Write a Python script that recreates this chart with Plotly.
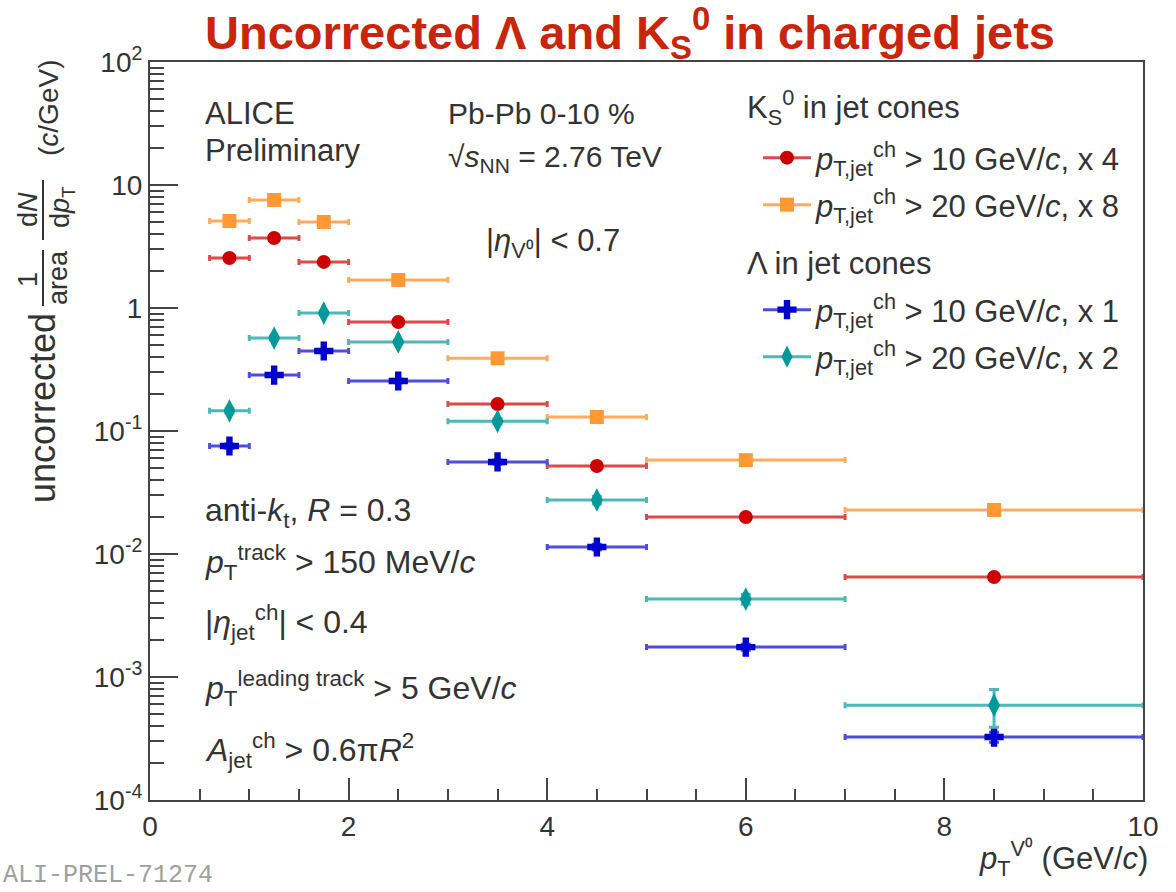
import plotly.graph_objects as go

# ---------------- data ----------------
pt_centers = [0.8, 1.25, 1.75, 2.5, 3.5, 4.5, 6.0, 8.5]
pt_halfwidths = [0.2, 0.25, 0.25, 0.5, 0.5, 0.5, 1.0, 1.5]

k0s_10 = [2.55, 3.71, 2.37, 0.77, 0.166, 0.052, 0.020, 0.0065]        # x4
k0s_20 = [5.1, 7.55, 5.0, 1.69, 0.39, 0.13, 0.058, 0.0228]            # x8
lam_10 = [0.0755, 0.285, 0.447, 0.255, 0.056, 0.0114, 0.00175, 0.000325]  # x1
lam_20 = [0.146, 0.57, 0.91, 0.53, 0.12, 0.0275, 0.0043, 0.00059]     # x2

k0s_10_err = [0.03, 0.05, 0.04, 0.015, 0.004, 0.0015, 0.0007, 0.0003]
k0s_20_err = [0.08, 0.12, 0.10, 0.04, 0.012, 0.005, 0.002, 0.001]
lam_10_err = [0.003, 0.008, 0.012, 0.008, 0.002, 0.0006, 0.0001, 0.00003]
lam_20_err = [0.006, 0.02, 0.03, 0.02, 0.006, 0.0020, 0.0004, 0.0002]

y_tickvals = [1e-4, 1e-3, 1e-2, 1e-1, 1, 10, 100]
y_ticktext = ["10<sup>-4</sup>", "10<sup>-3</sup>", "10<sup>-2</sup>", "10<sup>-1</sup>",
              "1", "10", "10<sup>2</sup>"]

FONT = "Liberation Sans, Arial, Helvetica, sans-serif"
TXT = "#333333"

# plot area in pixels
L, R, T, B = 150, 1143, 62, 800
W, H = 1176, 892


def px(xp):
    return (xp - L) / (R - L)


def py(yp):
    return (B - yp) / (B - T)


series = [
    dict(y=k0s_10, e=k0s_10_err, name="<i>p</i><sub>T,jet</sub><sup>ch</sup> > 10 GeV/<i>c</i>, x 4",
         mcol="#cc0000", lcol="#dd4a4a", sym="circle", size=14, leg="legend", ly=158),
    dict(y=k0s_20, e=k0s_20_err, name="<i>p</i><sub>T,jet</sub><sup>ch</sup> > 20 GeV/<i>c</i>, x 8",
         mcol="#ff9933", lcol="#ffad5c", sym="square", size=14, leg="legend2", ly=205),
    dict(y=lam_10, e=lam_10_err, name="<i>p</i><sub>T,jet</sub><sup>ch</sup> > 10 GeV/<i>c</i>, x 1",
         mcol="#0000cc", lcol="#4d4de0", sym="cross", size=16, leg="legend3", ly=310),
    dict(y=lam_20, e=lam_20_err, name="<i>p</i><sub>T,jet</sub><sup>ch</sup> > 20 GeV/<i>c</i>, x 2",
         mcol="#009999", lcol="#4db8b8", sym="diamond-tall", size=17, leg="legend4", ly=357),
]

fig = go.Figure()
legends = {}
for s in series:
    fig.add_trace(go.Scatter(
        x=pt_centers, y=s["y"], mode="markers",
        marker=dict(symbol=s["sym"], size=s["size"], color=s["mcol"], line=dict(width=0)),
        error_x=dict(type="data", array=pt_halfwidths, color=s["lcol"], thickness=3, width=3),
        error_y=dict(type="data", array=s["e"], color=s["lcol"], thickness=3, width=5),
        showlegend=False, hoverinfo="skip",
    ))
    # legend entry (line + marker)
    fig.add_trace(go.Scatter(
        x=[None], y=[None], mode="lines+markers", name=s["name"],
        marker=dict(symbol=s["sym"], size=s["size"], color=s["mcol"]),
        line=dict(color=s["lcol"], width=3),
        legend=s["leg"], showlegend=True,
    ))
    legends[s["leg"]] = dict(x=px(758), y=py(s["ly"]), xanchor="left", yanchor="middle",
                             bgcolor="rgba(0,0,0,0)", itemwidth=48,
                             font=dict(size=31, color=TXT, family=FONT))

ann = []


def add_text(text, xp, yp, size=30, xanchor="left", angle=0, color=TXT, family=FONT):
    ann.append(dict(text=text, x=px(xp), y=py(yp), xref="paper", yref="paper",
                    xanchor=xanchor, yanchor="middle", showarrow=False, textangle=angle,
                    font=dict(size=size, color=color, family=family)))


add_text("ALICE", 203, 113, 31)
add_text("Preliminary", 203, 150, 31)
add_text("Pb-Pb 0-10 %", 446, 113, 30)
add_text("√<i>s</i><sub>NN</sub> = 2.76 TeV", 446, 158, 30)
add_text("|<i>η</i><sub>V⁰</sub>| < 0.7", 484, 243, 31)

# legend headings
add_text("K<sub>S</sub><sup>0</sup> in jet cones", 745, 107, 31)
add_text("Λ in jet cones", 745, 263, 31)

add_text("anti-<i>k</i><sub>t</sub>, <i>R</i> = 0.3", 203, 512, 32)
add_text("<i>p</i><sub>T</sub><sup>track</sup> > 150 MeV/<i>c</i>", 203, 562, 32)
add_text("|<i>η</i><sub>jet</sub><sup>ch</sup>| < 0.4", 203, 622, 32)
add_text("<i>p</i><sub>T</sub><sup>leading track</sup> > 5 GeV/<i>c</i>", 203, 688, 32)
add_text("<i>A</i><sub>jet</sub><sup>ch</sup> > 0.6π<i>R</i><sup>2</sup>", 203, 750, 32)

# x axis title
add_text("<i>p</i><sub>T</sub><sup>V⁰</sup> (GeV/<i>c</i>)", 1150, 858, 31, xanchor="right")

# y axis title (rotated pieces)
add_text("uncorrected", 42, 408, 36, xanchor="center", angle=-90)
add_text("1", 28, 280, 27, xanchor="center", angle=-90)
add_text("area", 58, 278, 27, xanchor="center", angle=-90)
add_text("d<i>N</i>", 28, 210, 27, xanchor="center", angle=-90)
add_text("d<i>p</i><sub>T</sub>", 62, 207, 27, xanchor="center", angle=-90)
add_text("(<i>c</i>/GeV)", 48, 108, 28, xanchor="center", angle=-90)

# watermark
add_text("ALI-PREL-71274", 1, 876, 25, color="#a0a0a0", family="Liberation Mono, Courier New, monospace")

shapes = [
    dict(type="line", xref="paper", yref="paper", x0=px(43), x1=px(43), y0=py(250), y1=py(306),
         line=dict(color=TXT, width=2)),
    dict(type="line", xref="paper", yref="paper", x0=px(43), x1=px(43), y0=py(180), y1=py(240),
         line=dict(color=TXT, width=2)),
]

fig.update_layout(
    width=W, height=H,
    margin=dict(l=L, r=W - R, t=T, b=H - B),
    paper_bgcolor="white", plot_bgcolor="white",
    font=dict(family=FONT, color=TXT, size=28),
    title=dict(text="Uncorrected Λ and K<sub>S</sub><sup>0</sup> in charged jets",
               x=630 / W, xanchor="center", y=1 - 33 / H, yanchor="middle",
               font=dict(family="Liberation Sans, Arial, sans-serif",
                         size=47, color="#c8250a", weight="bold")),
    xaxis=dict(range=[0, 10], showline=True, linecolor="#444", linewidth=2, mirror=True,
               ticks="inside", ticklen=22, tickwidth=2, tickcolor="#444", dtick=2, tick0=0,
               minor=dict(ticks="inside", ticklen=11, tickwidth=2, tickcolor="#444", dtick=0.5),
               showgrid=False, zeroline=False, tickfont=dict(size=28, color=TXT)),
    yaxis=dict(type="log", range=[-4, 2], showline=True, linecolor="#444", linewidth=2, mirror=True,
               ticks="inside", ticklen=28, tickwidth=2, tickcolor="#444",
               tickvals=y_tickvals, ticktext=y_ticktext,
               minor=dict(ticks="inside", ticklen=14, tickwidth=2, tickcolor="#444", dtick="D1"),
               showgrid=False, zeroline=False, tickfont=dict(size=28, color=TXT)),
    annotations=ann, shapes=shapes,
    **legends,
)

fig.write_html("out.html")
